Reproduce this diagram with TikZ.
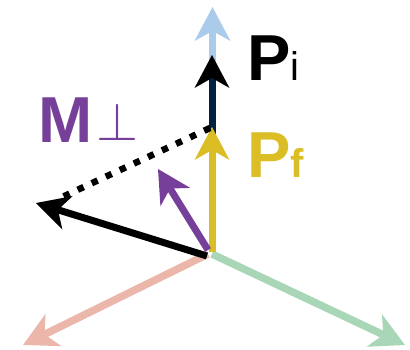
\documentclass[tikz,border=0pt]{standalone}
\usepackage{fontspec}
\usepackage{graphicx}
\setmainfont{Liberation Sans}
\usetikzlibrary{arrows.meta}
\definecolor{axblue}{HTML}{AACCEA}
\definecolor{axred}{HTML}{EBB7AB}
\definecolor{axgreen}{HTML}{A9D6B6}
\definecolor{pyellow}{HTML}{DBBD25}
\definecolor{mpurple}{HTML}{763F9A}
\definecolor{pnavy}{HTML}{02203F}
\tikzset{
  axisarrow/.style={line width=7.5pt, -{Stealth[length=34pt,width=36pt,inset=10pt,line width=0pt]}},
  vecarrow/.style={line width=7pt, -{Stealth[length=33pt,width=35pt,inset=10pt,line width=0pt]}},
  lbl/.style={anchor=base west, inner sep=0pt, outer sep=0pt}
}
\begin{document}
\begin{tikzpicture}[x=1pt,y=-1pt]
\useasboundingbox (0,0) rectangle (410,349);
% coordinates
\coordinate (O) at (210,252);
\coordinate (Ored) at (208,254);
\coordinate (Ogreen) at (212,254);
\coordinate (redtip) at (23,345);
\coordinate (greentip) at (405,345);
\coordinate (Oblue) at (212.5,252);
\coordinate (bluetip) at (212.5,7);
\coordinate (Opi) at (212,252);
\coordinate (pitip) at (212,55);
\coordinate (Opf) at (212,252);
\coordinate (pftip) at (212,127);
\coordinate (dotstart) at (210,128);
\coordinate (dotend) at (58,199);
\coordinate (Om) at (207,256);
\coordinate (mtip) at (36,203);
\coordinate (Opurple) at (208,250);
\coordinate (purpletip) at (158,169);
% axes
\draw[axisarrow, axred] (Ored) -- (redtip);
\draw[axisarrow, axgreen] (Ogreen) -- (greentip);
\draw[axisarrow, axblue] (Oblue) -- (bluetip);
% P_i
\draw[line width=7pt, pnavy, -{Stealth[length=33pt,width=35pt,inset=10pt,line width=0pt,black]}] (Opi) -- (pitip);
% P_f
\draw[vecarrow, pyellow] (Opf) -- (pftip);
% dotted projection
\draw[line width=6.5pt, black, dash pattern=on 6.5pt off 9pt] (dotstart) -- (dotend);
% black M arrow
\draw[vecarrow, black] (Om) -- (mtip);
% purple M perp arrow
\draw[vecarrow, mpurple] (Opurple) -- (purpletip);
% labels
\node[lbl] (pilabel) at (247,80) {\fontsize{65}{65}\selectfont\bfseries P\fontsize{40}{40}\selectfont\mdseries i};
\node[lbl, text=pyellow] (pflabel) at (247,177) {\fontsize{65}{65}\selectfont\bfseries P\fontsize{40}{40}\selectfont f};
\node[lbl, text=mpurple] (mlabel) at (38,142) {\fontsize{65}{65}\selectfont\bfseries M\hspace{4pt}\raisebox{2pt}{\scalebox{5.4}{\normalsize$\perp$}}};
\end{tikzpicture}
\end{document}
